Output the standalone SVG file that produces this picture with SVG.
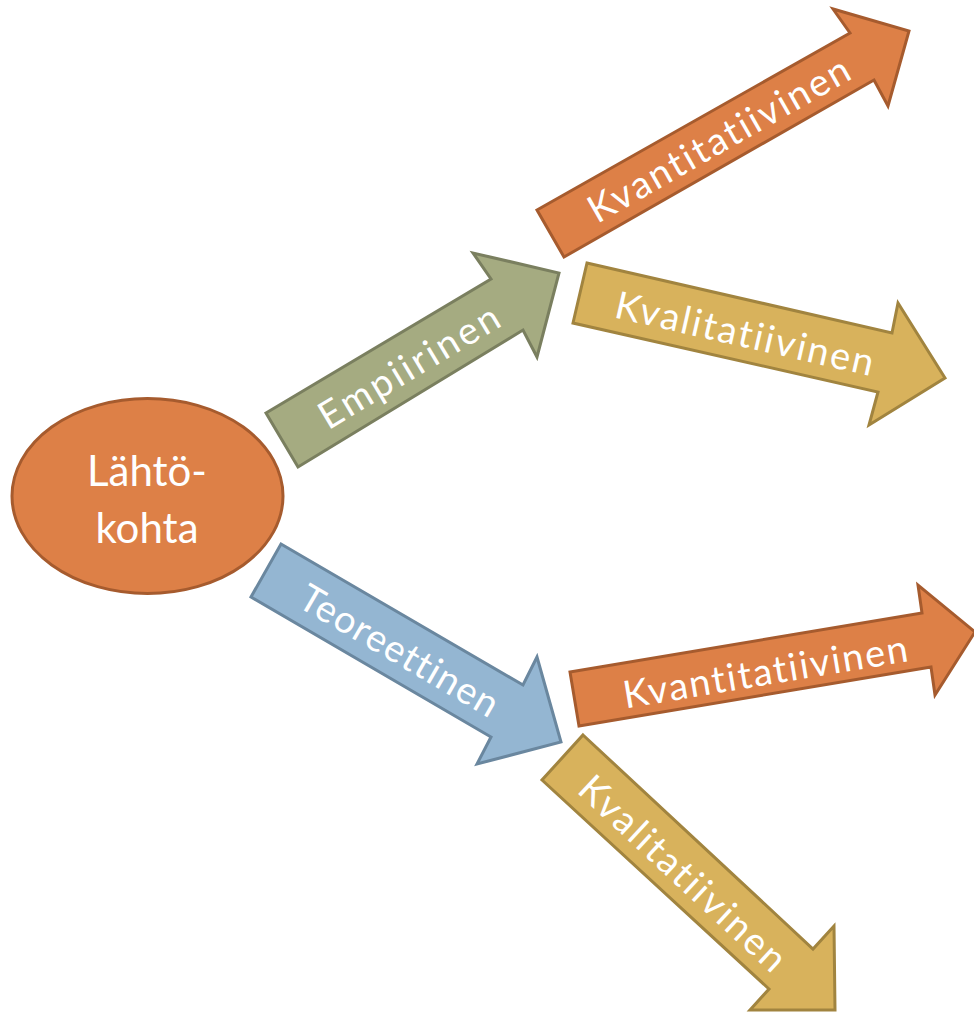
<svg xmlns="http://www.w3.org/2000/svg" width="974" height="1014" viewBox="0 0 974 1014">
  <style>
    .lbl { font-family: "Lato", "Noto Sans", "DejaVu Sans", sans-serif; fill: #ffffff; font-size: 38px; text-anchor: middle; dominant-baseline: central; font-variant-ligatures: none; font-feature-settings: "liga" 0; }
    .orange { fill: #DD8047; stroke: #A65B2E; stroke-width: 3; stroke-linejoin: miter; }
    .green { fill: #A5AB81; stroke: #7A7F5F; stroke-width: 3; }
    .gold { fill: #D8B25C; stroke: #A1843F; stroke-width: 3; }
    .blue { fill: #94B6D2; stroke: #6A879F; stroke-width: 3; }
  </style>
  <rect width="974" height="1014" fill="#ffffff"/>

  <g id="connectors">
    <g id="arrow-empiirinen">
      <polygon class="green" points="266,413 491,279 473,253 559,273 537,357 523,330 298,467"/>
      <text class="lbl" x="408" y="365" transform="rotate(-31 408 365)" textLength="204" lengthAdjust="spacing">Empiirinen</text>
    </g>
    <g id="arrow-teoreettinen">
      <polygon class="blue" points="281,544 523,685 537,657 561,742 477,764 491,737 251,597"/>
      <text class="lbl" x="400" y="649" transform="rotate(30.2 400 649)" textLength="224" lengthAdjust="spacing">Teoreettinen</text>
    </g>
    <g id="arrow-kvantitatiivinen-1">
      <polygon class="orange" points="537,210 850,33 833,9 909,31 888,106 874,80 564,257"/>
      <text class="lbl" x="718" y="138" transform="rotate(-29.7 718 138)" textLength="295" lengthAdjust="spacing">Kvantitatiivinen</text>
    </g>
    <g id="arrow-kvalitatiivinen-1">
      <polygon class="gold" points="587,263 892,333 898,303 945,378 869,425 878,392 573,323"/>
      <text class="lbl" x="745" y="332" transform="rotate(12.9 745 332)" textLength="264" lengthAdjust="spacing">Kvalitatiivinen</text>
    </g>
    <g id="arrow-kvantitatiivinen-2">
      <polygon class="orange" points="570,672 922,613 918,585 975,632 935,695 931,667 579,726"/>
      <text class="lbl" x="765" y="670" transform="rotate(-9.5 765 670)" textLength="288" lengthAdjust="spacing">Kvantitatiivinen</text>
    </g>
    <g id="arrow-kvalitatiivinen-2">
      <polygon class="gold" points="583,735 813,949 834,926 835,1010 750,1010 769,989 542,780"/>
      <text class="lbl" x="684" y="872" transform="rotate(42.9 684 872)" textLength="268" lengthAdjust="spacing">Kvalitatiivinen</text>
    </g>
  </g>

  <g id="node-lahtokohta">
    <ellipse cx="147.5" cy="496" rx="135.5" ry="97.5" class="orange"/>
    <text class="lbl" x="147" y="470" style="font-size:42px">Lähtö-</text>
    <text class="lbl" x="147" y="527" style="font-size:42px">kohta</text>
  </g>
</svg>
